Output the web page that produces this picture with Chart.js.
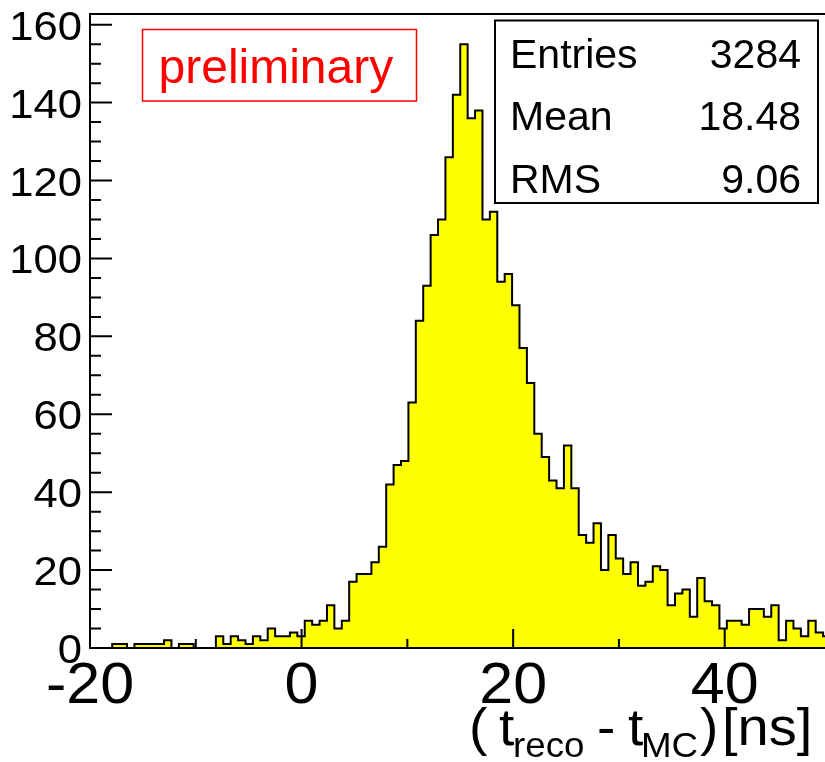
<!DOCTYPE html>
<html>
<head>
<meta charset="utf-8">
<script src="https://cdn.jsdelivr.net/npm/chart.js@4.4.1/dist/chart.umd.min.js"></script>
<style>
  html, body { margin: 0; padding: 0; overflow: hidden; background: #fff; }
  #wrap { position: absolute; left: 0; top: 0; }
</style>
</head>
<body>
<div id="wrap"><canvas id="timeRes" width="832" height="762"></canvas></div>
<script>
// histogram binning
const xMin = -20, xMax = 50, binWidth = 0.7
const yMax = 162.75

// counts per bin, 100 bins from -20 to 50 ns
const binCounts = [
  0, 0, 0, 1, 1, 0, 1, 1, 1, 1,
  2, 0, 1, 1, 0, 0, 0, 3, 1, 3,
  2, 1, 3, 2, 5, 3, 3, 4, 3, 7,
  6, 7, 11, 5, 7, 17, 19, 19, 22, 26,
  42, 47, 48, 63, 84, 93, 106, 110, 126, 142,
  155, 136, 138, 110, 112, 94, 96, 88, 77, 68,
  55, 49, 43, 41, 52, 41, 29, 27, 32, 20,
  29, 23, 19, 22, 16, 17, 21, 20, 11, 14,
  15, 8, 18, 12, 11, 5, 7, 7, 6, 10,
  10, 8, 11, 2, 7, 5, 3, 7, 4, 3
]

// axis ticks
const xTickLabels = [-20, 0, 20, 40]
const xMinorTicks = [-10, 10, 30]
const yTickLabels = [0, 20, 40, 60, 80, 100, 120, 140, 160]
const yMinorStep = 5

// stats box
const statNames = ['Entries', 'Mean', 'RMS']
const statValues = ['3284', '18.48', '9.06']

const FONT = '"Liberation Sans", Arial, Helvetica, sans-serif'

// step points at the left edge of every bin, plus the closing edge
const histPoints = binCounts.map((c, i) => ({ x: xMin + i * binWidth, y: c }))
histPoints.push({ x: xMax, y: binCounts[binCounts.length - 1] })

const textStretch = (ctx, text, x, y, align, sx) => {
  ctx.save()
  ctx.translate(x, y)
  ctx.scale(sx, 1)
  ctx.textAlign = align
  ctx.fillText(text, 0, 0)
  ctx.restore()
}

// frame, inward ticks, labels and the two boxes (ROOT style)
const rootFrame = {
  id: 'rootFrame',
  afterDatasetsDraw(chart) {
    const ctx = chart.ctx
    const a = chart.chartArea
    const xs = chart.scales.x, ys = chart.scales.y

    ctx.save()
    ctx.strokeStyle = '#000'
    ctx.lineWidth = 2
    ctx.beginPath()
    ctx.moveTo(a.left, a.bottom)
    ctx.lineTo(a.left, a.top)
    ctx.lineTo(a.right, a.top)
    ctx.lineTo(a.right, a.bottom)
    ctx.closePath()
    ctx.stroke()

    // y ticks
    ctx.beginPath()
    for (let v = 0; v <= yMax; v += yMinorStep) {
      const y = ys.getPixelForValue(v)
      const len = v % 20 === 0 ? 22 : 11
      ctx.moveTo(a.left, y)
      ctx.lineTo(a.left + len, y)
    }
    // x ticks
    xTickLabels.forEach(v => {
      const x = xs.getPixelForValue(v)
      ctx.moveTo(x, a.bottom)
      ctx.lineTo(x, a.bottom - 19)
    })
    xMinorTicks.forEach(v => {
      const x = xs.getPixelForValue(v)
      ctx.moveTo(x, a.bottom)
      ctx.lineTo(x, a.bottom - 9)
    })
    ctx.stroke()

    // tick labels
    ctx.fillStyle = '#000'
    ctx.textBaseline = 'alphabetic'
    ctx.font = '40px ' + FONT
    yTickLabels.forEach(v => {
      textStretch(ctx, String(v), a.left - 8, ys.getPixelForValue(v) + 15, 'right', 1.09)
    })
    ctx.font = '57px ' + FONT
    xTickLabels.forEach(v => {
      textStretch(ctx, String(v), xs.getPixelForValue(v), 703, 'center', 1.07)
    })

    // axis title ( t_reco - t_MC ) [ns]
    ctx.font = '51px ' + FONT
    textStretch(ctx, '(', 469, 745, 'left', 1.08)
    textStretch(ctx, 't', 499, 745, 'left', 1.08)
    textStretch(ctx, '-', 597, 745, 'left', 1.08)
    textStretch(ctx, 't', 628, 745, 'left', 1.08)
    textStretch(ctx, ')', 700, 745, 'left', 1.08)
    textStretch(ctx, '[ns]', 722, 745, 'left', 1.1)
    ctx.font = '35px ' + FONT
    textStretch(ctx, 'reco', 513, 757, 'left', 1.05)
    textStretch(ctx, 'MC', 641, 757, 'left', 1.05)

    // "preliminary" box
    ctx.strokeStyle = '#ff0000'
    ctx.lineWidth = 1.5
    ctx.fillStyle = '#fff'
    ctx.fillRect(142.5, 29.5, 274, 71.5)
    ctx.strokeRect(142.5, 29.5, 274, 71.5)
    ctx.fillStyle = '#ff0000'
    ctx.font = '48px ' + FONT
    ctx.textAlign = 'left'
    ctx.fillText('preliminary', 158.5, 82.5)

    // stats box
    ctx.strokeStyle = '#000'
    ctx.fillStyle = '#fff'
    ctx.lineWidth = 2
    ctx.fillRect(495, 20.5, 323, 182.5)
    ctx.strokeRect(495, 20.5, 323, 182.5)
    ctx.fillStyle = '#000'
    ctx.font = '41px ' + FONT
    const rows = [68, 130, 193]
    statNames.forEach((n, i) => {
      ctx.textAlign = 'left'
      ctx.fillText(n, 510, rows[i])
      ctx.textAlign = 'right'
      ctx.fillText(statValues[i], 801, rows[i])
    })
    ctx.restore()
  }
}

new Chart(document.getElementById('timeRes').getContext('2d'), {
  type: 'line',
  data: {
    datasets: [{
      data: histPoints,
      stepped: true,
      fill: 'origin',
      backgroundColor: '#ffff00',
      borderColor: '#000000',
      borderWidth: 2,
      pointRadius: 0,
      tension: 0
    }]
  },
  options: {
    responsive: false,
    animation: false,
    events: [],
    layout: { padding: { left: 90, top: 14, right: 1.5, bottom: 114 } },
    plugins: {
      legend: { display: false },
      tooltip: { enabled: false }
    },
    scales: {
      x: { type: 'linear', min: xMin, max: xMax, display: false },
      y: { type: 'linear', min: 0, max: yMax, display: false }
    }
  },
  plugins: [rootFrame]
});
</script>
</body>
</html>
